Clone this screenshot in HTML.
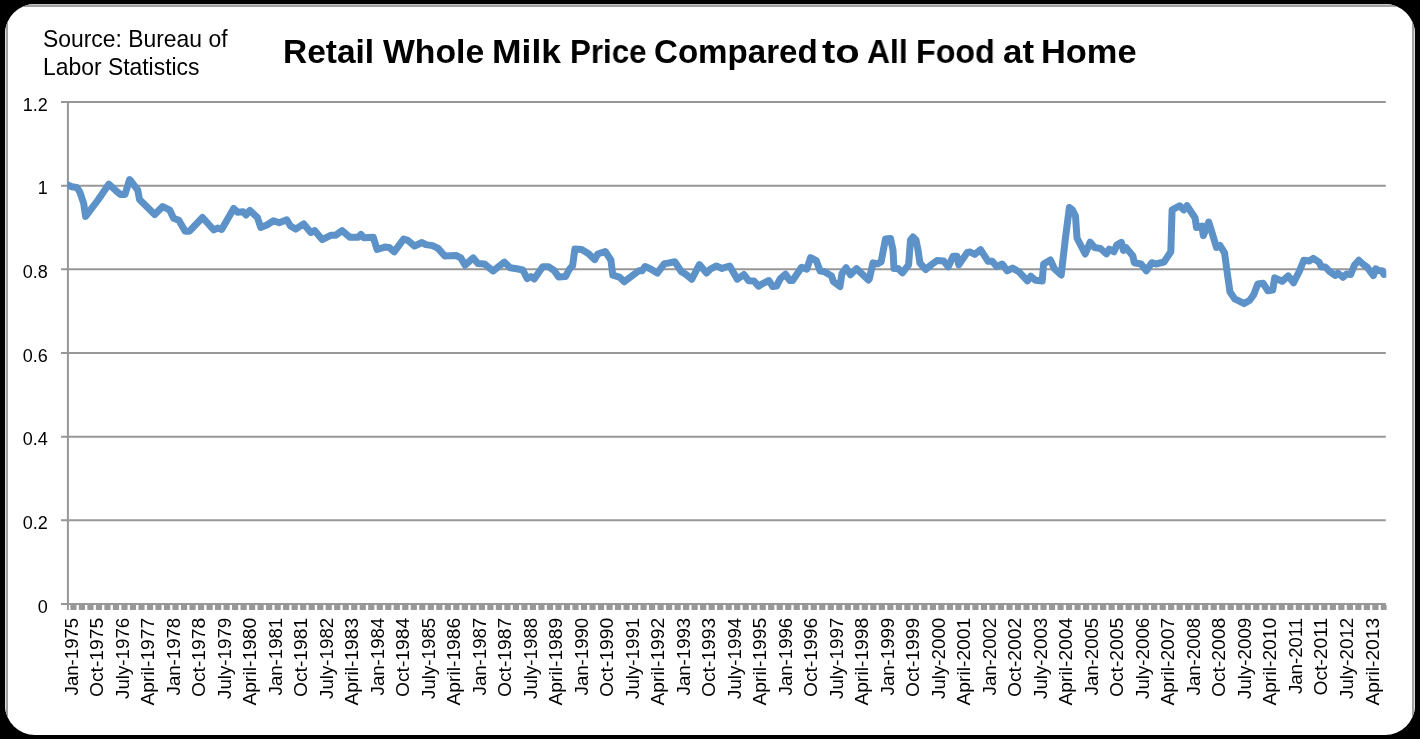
<!DOCTYPE html>
<html><head><meta charset="utf-8"><style>
html,body{margin:0;padding:0;background:#000;width:1420px;height:739px;overflow:hidden}
#card{position:absolute;left:5px;top:4px;width:1410px;height:730.5px;background:#fff;border-radius:30px;overflow:hidden}
#bord{position:absolute;left:0;top:0;width:1410px;height:800px;box-sizing:border-box;border:1px solid #dedede;border-top-color:#c4c4c4}
#bord2{position:absolute;left:1px;top:1px;width:1408px;height:800px;box-sizing:border-box;border:2px solid #a0a0a0}
svg{position:absolute;left:0;top:0;will-change:transform}
.src{position:absolute;left:43px;top:25.5px;font-family:"Liberation Sans",sans-serif;font-size:22.9px;line-height:25.7px;transform-origin:0 0;transform:scaleY(1.065);will-change:transform;color:#000;white-space:nowrap}
.tw{position:absolute;top:32.3px;transform-origin:0 0;will-change:transform;font-family:"Liberation Sans",sans-serif;font-weight:bold;font-size:33px;line-height:40px;color:#000;white-space:nowrap}
</style></head><body>
<div id="card"><div id="bord"></div><div id="bord2"></div></div>
<svg width="1420" height="739" viewBox="0 0 1420 739">
<defs><clipPath id="pc"><rect x="67.3" y="90" width="1319" height="530"/></clipPath></defs>
<g stroke="#979797" stroke-width="2"><line x1="61" y1="604.00" x2="1385.8" y2="604.00"/><line x1="61" y1="520.33" x2="1385.8" y2="520.33"/><line x1="61" y1="436.67" x2="1385.8" y2="436.67"/><line x1="61" y1="353.00" x2="1385.8" y2="353.00"/><line x1="61" y1="269.33" x2="1385.8" y2="269.33"/><line x1="61" y1="185.66" x2="1385.8" y2="185.66"/><line x1="61" y1="102.00" x2="1385.8" y2="102.00"/><line x1="67.9" y1="101" x2="67.9" y2="610"/></g>
<g fill="#989898"><rect x="70.34" y="605" width="6.17" height="5"/><rect x="78.85" y="605" width="6.17" height="5"/><rect x="87.36" y="605" width="6.17" height="5"/><rect x="95.87" y="605" width="6.17" height="5"/><rect x="104.38" y="605" width="6.17" height="5"/><rect x="112.88" y="605" width="6.17" height="5"/><rect x="121.39" y="605" width="6.17" height="5"/><rect x="129.90" y="605" width="6.17" height="5"/><rect x="138.41" y="605" width="6.17" height="5"/><rect x="146.92" y="605" width="6.17" height="5"/><rect x="155.43" y="605" width="6.17" height="5"/><rect x="163.94" y="605" width="6.17" height="5"/><rect x="172.45" y="605" width="6.17" height="5"/><rect x="180.96" y="605" width="6.17" height="5"/><rect x="189.47" y="605" width="6.17" height="5"/><rect x="197.98" y="605" width="6.17" height="5"/><rect x="206.49" y="605" width="6.17" height="5"/><rect x="215.00" y="605" width="6.17" height="5"/><rect x="223.51" y="605" width="6.17" height="5"/><rect x="232.02" y="605" width="6.17" height="5"/><rect x="240.53" y="605" width="6.17" height="5"/><rect x="249.04" y="605" width="6.17" height="5"/><rect x="257.55" y="605" width="6.17" height="5"/><rect x="266.06" y="605" width="6.17" height="5"/><rect x="274.57" y="605" width="6.17" height="5"/><rect x="283.08" y="605" width="6.17" height="5"/><rect x="291.59" y="605" width="6.17" height="5"/><rect x="300.10" y="605" width="6.17" height="5"/><rect x="308.61" y="605" width="6.17" height="5"/><rect x="317.12" y="605" width="6.17" height="5"/><rect x="325.63" y="605" width="6.17" height="5"/><rect x="334.14" y="605" width="6.17" height="5"/><rect x="342.65" y="605" width="6.17" height="5"/><rect x="351.16" y="605" width="6.17" height="5"/><rect x="359.67" y="605" width="6.17" height="5"/><rect x="368.18" y="605" width="6.17" height="5"/><rect x="376.68" y="605" width="6.17" height="5"/><rect x="385.19" y="605" width="6.17" height="5"/><rect x="393.70" y="605" width="6.17" height="5"/><rect x="402.21" y="605" width="6.17" height="5"/><rect x="410.72" y="605" width="6.17" height="5"/><rect x="419.23" y="605" width="6.17" height="5"/><rect x="427.74" y="605" width="6.17" height="5"/><rect x="436.25" y="605" width="6.17" height="5"/><rect x="444.76" y="605" width="6.17" height="5"/><rect x="453.27" y="605" width="6.17" height="5"/><rect x="461.78" y="605" width="6.17" height="5"/><rect x="470.29" y="605" width="6.17" height="5"/><rect x="478.80" y="605" width="6.17" height="5"/><rect x="487.31" y="605" width="6.17" height="5"/><rect x="495.82" y="605" width="6.17" height="5"/><rect x="504.33" y="605" width="6.17" height="5"/><rect x="512.84" y="605" width="6.17" height="5"/><rect x="521.35" y="605" width="6.17" height="5"/><rect x="529.86" y="605" width="6.17" height="5"/><rect x="538.37" y="605" width="6.17" height="5"/><rect x="546.88" y="605" width="6.17" height="5"/><rect x="555.39" y="605" width="6.17" height="5"/><rect x="563.90" y="605" width="6.17" height="5"/><rect x="572.41" y="605" width="6.17" height="5"/><rect x="580.92" y="605" width="6.17" height="5"/><rect x="589.43" y="605" width="6.17" height="5"/><rect x="597.94" y="605" width="6.17" height="5"/><rect x="606.45" y="605" width="6.17" height="5"/><rect x="614.96" y="605" width="6.17" height="5"/><rect x="623.47" y="605" width="6.17" height="5"/><rect x="631.98" y="605" width="6.17" height="5"/><rect x="640.48" y="605" width="6.17" height="5"/><rect x="648.99" y="605" width="6.17" height="5"/><rect x="657.50" y="605" width="6.17" height="5"/><rect x="666.01" y="605" width="6.17" height="5"/><rect x="674.52" y="605" width="6.17" height="5"/><rect x="683.03" y="605" width="6.17" height="5"/><rect x="691.54" y="605" width="6.17" height="5"/><rect x="700.05" y="605" width="6.17" height="5"/><rect x="708.56" y="605" width="6.17" height="5"/><rect x="717.07" y="605" width="6.17" height="5"/><rect x="725.58" y="605" width="6.17" height="5"/><rect x="734.09" y="605" width="6.17" height="5"/><rect x="742.60" y="605" width="6.17" height="5"/><rect x="751.11" y="605" width="6.17" height="5"/><rect x="759.62" y="605" width="6.17" height="5"/><rect x="768.13" y="605" width="6.17" height="5"/><rect x="776.64" y="605" width="6.17" height="5"/><rect x="785.15" y="605" width="6.17" height="5"/><rect x="793.66" y="605" width="6.17" height="5"/><rect x="802.17" y="605" width="6.17" height="5"/><rect x="810.68" y="605" width="6.17" height="5"/><rect x="819.19" y="605" width="6.17" height="5"/><rect x="827.70" y="605" width="6.17" height="5"/><rect x="836.21" y="605" width="6.17" height="5"/><rect x="844.72" y="605" width="6.17" height="5"/><rect x="853.23" y="605" width="6.17" height="5"/><rect x="861.74" y="605" width="6.17" height="5"/><rect x="870.25" y="605" width="6.17" height="5"/><rect x="878.76" y="605" width="6.17" height="5"/><rect x="887.27" y="605" width="6.17" height="5"/><rect x="895.78" y="605" width="6.17" height="5"/><rect x="904.28" y="605" width="6.17" height="5"/><rect x="912.79" y="605" width="6.17" height="5"/><rect x="921.30" y="605" width="6.17" height="5"/><rect x="929.81" y="605" width="6.17" height="5"/><rect x="938.32" y="605" width="6.17" height="5"/><rect x="946.83" y="605" width="6.17" height="5"/><rect x="955.34" y="605" width="6.17" height="5"/><rect x="963.85" y="605" width="6.17" height="5"/><rect x="972.36" y="605" width="6.17" height="5"/><rect x="980.87" y="605" width="6.17" height="5"/><rect x="989.38" y="605" width="6.17" height="5"/><rect x="997.89" y="605" width="6.17" height="5"/><rect x="1006.40" y="605" width="6.17" height="5"/><rect x="1014.91" y="605" width="6.17" height="5"/><rect x="1023.42" y="605" width="6.17" height="5"/><rect x="1031.93" y="605" width="6.17" height="5"/><rect x="1040.44" y="605" width="6.17" height="5"/><rect x="1048.95" y="605" width="6.17" height="5"/><rect x="1057.46" y="605" width="6.17" height="5"/><rect x="1065.97" y="605" width="6.17" height="5"/><rect x="1074.48" y="605" width="6.17" height="5"/><rect x="1082.99" y="605" width="6.17" height="5"/><rect x="1091.50" y="605" width="6.17" height="5"/><rect x="1100.01" y="605" width="6.17" height="5"/><rect x="1108.52" y="605" width="6.17" height="5"/><rect x="1117.03" y="605" width="6.17" height="5"/><rect x="1125.54" y="605" width="6.17" height="5"/><rect x="1134.05" y="605" width="6.17" height="5"/><rect x="1142.56" y="605" width="6.17" height="5"/><rect x="1151.07" y="605" width="6.17" height="5"/><rect x="1159.58" y="605" width="6.17" height="5"/><rect x="1168.08" y="605" width="6.17" height="5"/><rect x="1176.59" y="605" width="6.17" height="5"/><rect x="1185.10" y="605" width="6.17" height="5"/><rect x="1193.61" y="605" width="6.17" height="5"/><rect x="1202.12" y="605" width="6.17" height="5"/><rect x="1210.63" y="605" width="6.17" height="5"/><rect x="1219.14" y="605" width="6.17" height="5"/><rect x="1227.65" y="605" width="6.17" height="5"/><rect x="1236.16" y="605" width="6.17" height="5"/><rect x="1244.67" y="605" width="6.17" height="5"/><rect x="1253.18" y="605" width="6.17" height="5"/><rect x="1261.69" y="605" width="6.17" height="5"/><rect x="1270.20" y="605" width="6.17" height="5"/><rect x="1278.71" y="605" width="6.17" height="5"/><rect x="1287.22" y="605" width="6.17" height="5"/><rect x="1295.73" y="605" width="6.17" height="5"/><rect x="1304.24" y="605" width="6.17" height="5"/><rect x="1312.75" y="605" width="6.17" height="5"/><rect x="1321.26" y="605" width="6.17" height="5"/><rect x="1329.77" y="605" width="6.17" height="5"/><rect x="1338.28" y="605" width="6.17" height="5"/><rect x="1346.79" y="605" width="6.17" height="5"/><rect x="1355.30" y="605" width="6.17" height="5"/><rect x="1363.81" y="605" width="6.17" height="5"/><rect x="1372.32" y="605" width="6.17" height="5"/><rect x="1380.83" y="605" width="5.77" height="5"/></g>
<g font-family="Liberation Sans" font-size="18" text-anchor="end" fill="#000"><text x="47.8" y="612.70">0</text><text x="47.8" y="529.03">0.2</text><text x="47.8" y="445.37">0.4</text><text x="47.8" y="361.70">0.6</text><text x="47.8" y="278.03">0.8</text><text x="47.8" y="194.36">1</text><text x="47.8" y="110.70">1.2</text></g>
<g font-family="Liberation Sans" font-size="18" text-anchor="end" fill="#000"><text transform="translate(77.50,617.8) rotate(-90) scale(1.035,1)">Jan-1975</text><text transform="translate(103.01,617.8) rotate(-90) scale(1.07,1)">Oct-1975</text><text transform="translate(128.52,617.8) rotate(-90) scale(1.04,1)">July-1976</text><text transform="translate(154.03,617.8) rotate(-90) scale(1.07,1)">April-1977</text><text transform="translate(179.54,617.8) rotate(-90) scale(1.035,1)">Jan-1978</text><text transform="translate(205.05,617.8) rotate(-90) scale(1.07,1)">Oct-1978</text><text transform="translate(230.56,617.8) rotate(-90) scale(1.04,1)">July-1979</text><text transform="translate(256.07,617.8) rotate(-90) scale(1.07,1)">April-1980</text><text transform="translate(281.58,617.8) rotate(-90) scale(1.035,1)">Jan-1981</text><text transform="translate(307.09,617.8) rotate(-90) scale(1.07,1)">Oct-1981</text><text transform="translate(332.60,617.8) rotate(-90) scale(1.04,1)">July-1982</text><text transform="translate(358.11,617.8) rotate(-90) scale(1.07,1)">April-1983</text><text transform="translate(383.62,617.8) rotate(-90) scale(1.035,1)">Jan-1984</text><text transform="translate(409.13,617.8) rotate(-90) scale(1.07,1)">Oct-1984</text><text transform="translate(434.64,617.8) rotate(-90) scale(1.04,1)">July-1985</text><text transform="translate(460.15,617.8) rotate(-90) scale(1.07,1)">April-1986</text><text transform="translate(485.66,617.8) rotate(-90) scale(1.035,1)">Jan-1987</text><text transform="translate(511.17,617.8) rotate(-90) scale(1.07,1)">Oct-1987</text><text transform="translate(536.68,617.8) rotate(-90) scale(1.04,1)">July-1988</text><text transform="translate(562.19,617.8) rotate(-90) scale(1.07,1)">April-1989</text><text transform="translate(587.70,617.8) rotate(-90) scale(1.035,1)">Jan-1990</text><text transform="translate(613.21,617.8) rotate(-90) scale(1.07,1)">Oct-1990</text><text transform="translate(638.72,617.8) rotate(-90) scale(1.04,1)">July-1991</text><text transform="translate(664.23,617.8) rotate(-90) scale(1.07,1)">April-1992</text><text transform="translate(689.74,617.8) rotate(-90) scale(1.035,1)">Jan-1993</text><text transform="translate(715.25,617.8) rotate(-90) scale(1.07,1)">Oct-1993</text><text transform="translate(740.75,617.8) rotate(-90) scale(1.04,1)">July-1994</text><text transform="translate(766.26,617.8) rotate(-90) scale(1.07,1)">April-1995</text><text transform="translate(791.77,617.8) rotate(-90) scale(1.035,1)">Jan-1996</text><text transform="translate(817.28,617.8) rotate(-90) scale(1.07,1)">Oct-1996</text><text transform="translate(842.79,617.8) rotate(-90) scale(1.04,1)">July-1997</text><text transform="translate(868.30,617.8) rotate(-90) scale(1.07,1)">April-1998</text><text transform="translate(893.81,617.8) rotate(-90) scale(1.035,1)">Jan-1999</text><text transform="translate(919.32,617.8) rotate(-90) scale(1.07,1)">Oct-1999</text><text transform="translate(944.83,617.8) rotate(-90) scale(1.04,1)">July-2000</text><text transform="translate(970.34,617.8) rotate(-90) scale(1.07,1)">April-2001</text><text transform="translate(995.85,617.8) rotate(-90) scale(1.035,1)">Jan-2002</text><text transform="translate(1021.36,617.8) rotate(-90) scale(1.07,1)">Oct-2002</text><text transform="translate(1046.87,617.8) rotate(-90) scale(1.04,1)">July-2003</text><text transform="translate(1072.38,617.8) rotate(-90) scale(1.07,1)">April-2004</text><text transform="translate(1097.89,617.8) rotate(-90) scale(1.035,1)">Jan-2005</text><text transform="translate(1123.40,617.8) rotate(-90) scale(1.07,1)">Oct-2005</text><text transform="translate(1148.91,617.8) rotate(-90) scale(1.04,1)">July-2006</text><text transform="translate(1174.42,617.8) rotate(-90) scale(1.07,1)">April-2007</text><text transform="translate(1199.93,617.8) rotate(-90) scale(1.035,1)">Jan-2008</text><text transform="translate(1225.44,617.8) rotate(-90) scale(1.07,1)">Oct-2008</text><text transform="translate(1250.95,617.8) rotate(-90) scale(1.04,1)">July-2009</text><text transform="translate(1276.46,617.8) rotate(-90) scale(1.07,1)">April-2010</text><text transform="translate(1301.97,617.8) rotate(-90) scale(1.035,1)">Jan-2011</text><text transform="translate(1327.48,617.8) rotate(-90) scale(1.07,1)">Oct-2011</text><text transform="translate(1352.99,617.8) rotate(-90) scale(1.04,1)">July-2012</text><text transform="translate(1378.50,617.8) rotate(-90) scale(1.07,1)">April-2013</text></g>
<g clip-path="url(#pc)"><polyline points="67.3,184.8 71.8,186.8 76.8,187.4 79.7,191.7 83.7,203.5 85.6,216.4 98.0,200.0 108.8,184.2 116.8,191.5 120.5,194.5 125.0,194.5 129.6,179.5 137.7,189.9 139.5,199.4 154.7,214.5 162.7,206.5 169.8,210.2 173.6,218.3 178.8,220.3 185.2,231.2 189.5,231.2 202.5,217.5 213.8,230.0 217.6,228.0 221.6,229.5 233.7,208.5 237.5,212.3 243.2,211.8 246.0,215.1 249.8,210.4 257.4,217.5 260.7,227.4 266.9,225.0 273.5,220.8 279.2,222.7 286.7,219.8 290.5,226.0 295.7,229.1 303.7,223.9 310.8,232.5 314.6,230.6 322.2,239.6 330.7,235.3 335.5,235.3 342.1,230.6 349.7,237.2 358.2,237.2 361.0,234.4 363.9,237.7 373.3,237.2 377.1,249.5 384.7,247.1 389.4,247.6 394.2,251.9 403.6,239.1 407.8,240.4 414.5,246.0 422.0,242.5 425.8,244.6 432.5,245.6 438.1,248.4 444.8,256.0 456.1,255.5 460.9,257.9 465.1,265.2 473.2,257.9 477.9,263.6 484.5,264.0 493.1,271.0 504.4,262.1 510.1,267.8 516.7,268.8 522.8,270.0 527.1,278.5 530.9,276.6 534.2,279.0 542.7,266.7 548.4,266.7 554.1,270.5 558.8,277.1 565.5,276.6 569.2,269.5 572.6,265.7 574.9,249.0 581.6,249.5 588.2,253.4 594.8,259.6 597.7,254.0 605.2,251.5 610.9,260.0 612.8,275.2 619.4,277.1 624.2,281.8 638.8,270.7 642.1,270.7 645.0,266.5 650.2,268.8 657.3,273.1 664.4,263.6 668.1,263.1 674.8,261.7 681.4,271.7 686.1,274.5 691.8,279.2 699.4,264.6 706.5,273.1 710.8,268.8 716.4,266.0 722.1,268.4 729.7,266.0 737.3,279.2 743.9,274.5 748.6,280.7 753.8,280.9 758.5,286.1 764.2,282.8 768.9,280.5 772.7,286.6 776.5,286.1 780.3,278.6 785.5,274.3 789.8,280.5 792.6,280.5 801.6,267.2 806.8,269.1 810.6,257.7 816.3,260.6 820.1,271.0 823.9,271.5 831.4,275.7 833.3,281.4 840.0,286.6 841.9,273.8 846.1,267.7 850.4,274.8 856.5,268.6 868.4,280.0 869.3,279.0 873.0,262.9 877.3,263.8 881.1,261.9 885.5,239.0 890.5,238.5 893.0,250.0 894.0,268.5 898.1,268.6 902.4,272.8 908.6,264.8 910.5,240.0 913.0,237.0 916.0,240.0 918.0,250.0 919.9,262.9 925.6,269.5 931.3,264.8 937.0,260.5 943.6,261.0 948.3,266.7 953.1,256.3 956.9,256.3 958.8,264.8 967.3,252.5 970.1,252.0 974.8,254.4 980.5,249.6 988.1,261.3 992.2,261.3 996.9,266.7 1002.3,264.0 1007.1,270.8 1012.5,268.1 1019.2,272.1 1027.4,280.9 1030.7,276.2 1035.5,280.3 1042.2,280.9 1043.6,264.0 1050.4,260.0 1054.4,268.7 1061.2,275.0 1065.2,240.0 1069.4,207.5 1072.5,210.0 1075.5,216.0 1077.0,238.0 1085.2,254.0 1090.2,242.2 1094.5,247.5 1100.4,248.5 1106.5,253.9 1109.2,249.1 1113.9,251.8 1116.7,245.1 1121.4,242.4 1123.4,250.5 1126.1,247.8 1132.9,255.9 1134.2,262.7 1141.0,264.0 1146.4,270.8 1151.8,262.7 1155.9,264.0 1164.0,262.0 1170.8,251.8 1172.1,209.9 1179.6,205.8 1183.6,209.9 1187.0,205.8 1195.1,218.0 1196.5,227.5 1201.9,226.1 1203.3,235.6 1208.7,222.1 1212.4,233.9 1216.5,247.5 1219.9,245.4 1224.6,252.9 1226.7,269.1 1230.0,292.1 1234.8,298.9 1244.2,303.6 1249.7,300.3 1253.7,294.8 1257.8,284.0 1263.2,283.3 1267.9,290.8 1272.7,290.1 1274.7,277.9 1282.1,281.3 1288.2,275.9 1293.6,282.7 1299.7,270.5 1303.8,260.3 1309.2,261.0 1313.3,258.4 1319.0,262.2 1321.4,266.9 1325.2,266.9 1329.9,271.7 1335.1,275.5 1337.9,273.1 1343.1,277.3 1346.5,274.0 1350.7,274.5 1354.5,265.0 1358.8,260.3 1364.0,265.0 1366.8,266.9 1373.4,275.5 1375.8,268.8 1379.1,270.7 1382.0,270.7 1383.9,274.5 1387.0,273.6" fill="none" stroke="#5c92c8" stroke-width="7" stroke-linejoin="round" stroke-linecap="round"/></g>
</svg>
<div class="src">Source: Bureau of<br>Labor Statistics</div>
<div class="tw" style="left:283.17px;transform:scaleX(1.0136)">Retail</div><div class="tw" style="left:382.68px;transform:scaleX(1.0226)">Whole</div><div class="tw" style="left:492.40px;transform:scaleX(1.0744)">Milk</div><div class="tw" style="left:569.79px;transform:scaleX(0.9485)">Price</div><div class="tw" style="left:653.86px;transform:scaleX(1.0028)">Compared</div><div class="tw" style="left:821.51px;transform:scaleX(1.2086)">to</div><div class="tw" style="left:866.51px;transform:scaleX(0.9656)">All</div><div class="tw" style="left:915.76px;transform:scaleX(0.9765)">Food</div><div class="tw" style="left:1002.97px;transform:scaleX(1.0573)">at</div><div class="tw" style="left:1041.17px;transform:scaleX(1.0426)">Home</div>
</body></html>
